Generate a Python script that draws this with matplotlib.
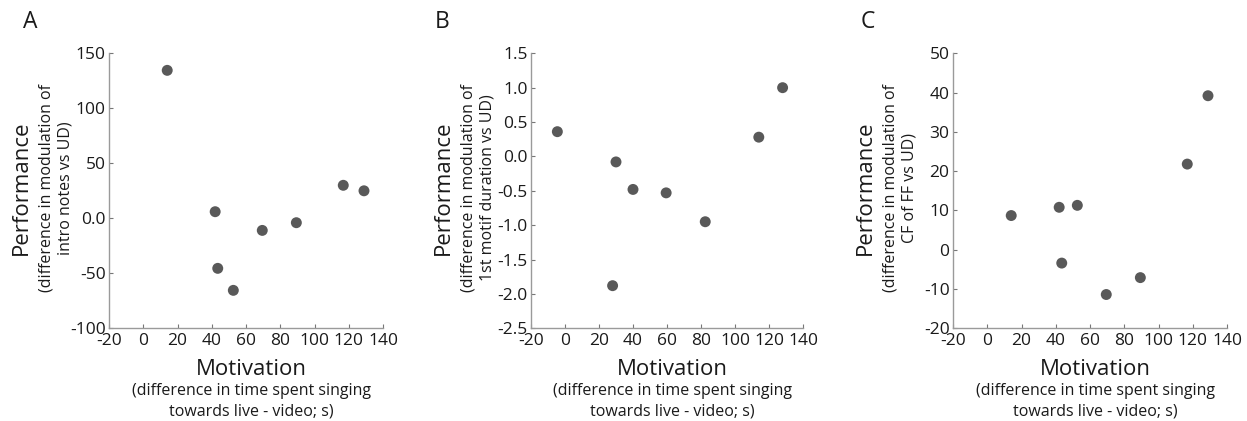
import matplotlib
matplotlib.use('Agg')
import matplotlib.pyplot as plt

plt.rcParams['font.family'] = ['Open Sans', 'DejaVu Sans']

# motivation (x) values shared by panels A and C, panel B has its own
motivation_ac = [14, 42, 43.5, 52.6, 69.5, 89.4, 116.8, 128.9]
motivation_b = [-4.5, 28, 30, 40, 59.5, 82.5, 114, 128]

perf_a = [134.5, 6, -45.5, -65.5, -11, -4, 30, 25]
perf_b = [0.36, -1.88, -0.08, -0.48, -0.53, -0.95, 0.28, 1.0]
perf_c = [8.7, 10.8, -3.4, 11.3, -11.4, -7.1, 21.8, 39.2]

xticks = [-20, 0, 20, 40, 60, 80, 100, 120, 140]
yticks_a = [-100, -50, 0, 50, 100, 150]
yticklabels_a = ['-100', '-50', '0.0', '50', '100', '150']
yticks_b = [-2.5, -2.0, -1.5, -1.0, -0.5, 0.0, 0.5, 1.0, 1.5]
yticklabels_b = ['%.1f' % v for v in yticks_b]
yticks_c = [-20, -10, 0, 10, 20, 30, 40, 50]
yticklabels_c = [str(v) for v in yticks_c]

letters = ['A', 'B', 'C']
sub_ylabels = [
    '(difference in modulation of\nintro notes vs UD)',
    '(difference in modulation of\n1st motif duration vs UD)',
    '(difference in modulation of\nCF of FF vs UD)',
]

W, H = 1247, 421
fig = plt.figure(figsize=(W / 100, H / 100), dpi=100)

# axes boxes in pixels: left, right
boxes = [(109, 383), (531, 803), (953, 1227)]
top_px, bot_px = 53.3, 328.3
letter_x = [30, 442, 868]

panels = [
    (motivation_ac, perf_a, yticks_a, yticklabels_a),
    (motivation_b, perf_b, yticks_b, yticklabels_b),
    (motivation_ac, perf_c, yticks_c, yticklabels_c),
]

spine_col = '#9a9a9a'
for i, (xs, ys, yt, ytl) in enumerate(panels):
    l, r = boxes[i]
    w = r - l
    ax = fig.add_axes([l / W, 1 - bot_px / H, w / W, (bot_px - top_px) / H])
    ax.scatter(xs, ys, s=62, color='#595959', edgecolors='none', zorder=3, clip_on=False)
    ax.set_xlim(-20, 140)
    ax.set_ylim(yt[0], yt[-1])
    ax.set_xticks(xticks)
    ax.set_xticklabels([str(v) for v in xticks])
    ax.set_yticks(yt)
    ax.set_yticklabels(ytl)
    for s in ['top', 'right']:
        ax.spines[s].set_visible(False)
    for s in ['left', 'bottom']:
        ax.spines[s].set_color(spine_col)
        ax.spines[s].set_linewidth(1.0)
    ax.tick_params(direction='in', length=3, width=0.8, color='#777777',
                   labelsize=12.5, labelcolor='#1a1a1a', pad=2.5)
    ax.tick_params(axis='x', pad=3.5)

    # x labels
    ax.text(0.52, -0.11, 'Motivation', transform=ax.transAxes, ha='center', va='top',
            fontsize=16, color='#1a1a1a')
    ax.text(0.52, -0.2, '(difference in time spent singing\ntowards live - video; s)',
            transform=ax.transAxes, ha='center', va='top', fontsize=11.5,
            color='#1a1a1a', linespacing=1.35)

    # y labels
    ax.text(-88 / w, 0.51, 'Performance',
            transform=ax.transAxes, ha='center', va='center', rotation=90,
            fontsize=16, color='#1a1a1a')
    ax.text(-53 / w, 0.51, sub_ylabels[i],
            transform=ax.transAxes, ha='center', va='center', rotation=90,
            fontsize=11.5, color='#1a1a1a', linespacing=1.3, multialignment='center')

    fig.text(letter_x[i] / W, 1 - 22 / H, letters[i], ha='center', va='center',
             fontsize=16.5, color='#1a1a1a')

fig.savefig('out.png', dpi=100)
